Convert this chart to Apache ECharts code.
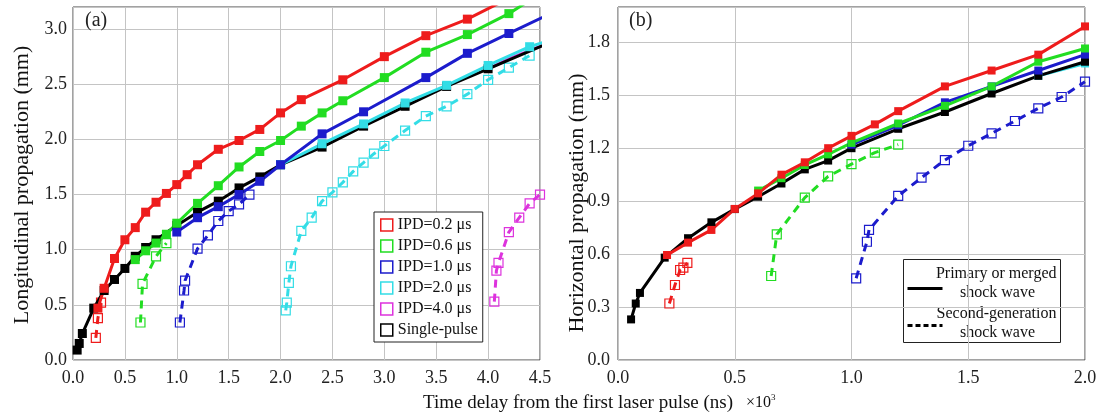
<!DOCTYPE html>
<html>
<head>
<meta charset="utf-8">
<script src="https://cdn.jsdelivr.net/npm/echarts@6/dist/echarts.min.js"></script>
<style>
html,body{margin:0;padding:0;background:#fff;}
#chart{width:1104px;height:417px;}
</style>
</head>
<body>
<div id="chart"></div>
<script>
// ---------- DATA : panel (a) longitudinal propagation ----------
var xTicksA = [0, 0.5, 1.0, 1.5, 2.0, 2.5, 3.0, 3.5, 4.0, 4.5];
var a_single = [[0.04,0.09],[0.06,0.15],[0.09,0.24],[0.2,0.47],[0.3,0.63],[0.4,0.73],[0.5,0.83],[0.6,0.94],[0.7,1.02],[0.8,1.09],[1.0,1.22],[1.2,1.34],[1.4,1.44],[1.6,1.56],[1.8,1.66],[2.0,1.77],[2.4,1.93],[2.8,2.12],[3.2,2.30],[3.6,2.48],[4.0,2.64],[4.6,2.88]];
var a_ipd02_main = [[0.24,0.47],[0.3,0.65],[0.4,0.92],[0.5,1.09],[0.6,1.20],[0.7,1.34],[0.8,1.43],[0.9,1.51],[1.0,1.59],[1.1,1.68],[1.2,1.77],[1.4,1.91],[1.6,1.99],[1.8,2.09],[2.0,2.24],[2.2,2.36],[2.6,2.54],[3.0,2.75],[3.4,2.94],[3.8,3.09],[4.2,3.28]];
var a_ipd02_second = [[0.22,0.20],[0.24,0.38],[0.27,0.52]];
var a_ipd06_main = [[0.6,0.91],[0.7,0.99],[0.8,1.06],[0.9,1.14],[1.0,1.24],[1.2,1.42],[1.4,1.58],[1.6,1.75],[1.8,1.89],[2.0,1.99],[2.2,2.12],[2.4,2.24],[2.6,2.35],[3.0,2.56],[3.4,2.79],[3.8,2.95],[4.2,3.14],[4.4,3.26]];
var a_ipd06_second = [[0.65,0.34],[0.67,0.69],[0.8,0.94],[0.9,1.06]];
var a_ipd10_main = [[1.0,1.16],[1.2,1.29],[1.4,1.39],[1.6,1.50],[1.8,1.62],[2.0,1.77],[2.4,2.05],[2.8,2.25],[3.4,2.56],[3.8,2.78],[4.2,2.96],[4.6,3.14]];
var a_ipd10_second = [[1.03,0.34],[1.07,0.63],[1.08,0.72],[1.2,1.01],[1.3,1.13],[1.4,1.26],[1.5,1.35],[1.6,1.41],[1.7,1.50]];
var a_ipd20_main = [[2.0,1.77],[2.4,1.96],[2.8,2.14],[3.2,2.33],[3.6,2.49],[4.0,2.67],[4.4,2.84],[4.6,2.90]];
var a_ipd20_second = [[2.05,0.45],[2.06,0.52],[2.08,0.70],[2.1,0.85],[2.2,1.17],[2.3,1.29],[2.4,1.44],[2.5,1.52],[2.6,1.61],[2.7,1.71],[2.8,1.79],[2.9,1.87],[3.0,1.94],[3.2,2.08],[3.4,2.21],[3.6,2.30],[3.8,2.41],[4.0,2.54],[4.2,2.65],[4.4,2.76]];
var a_ipd40_main = [[4.0,2.64],[4.2,2.73],[4.6,2.88]];
var a_ipd40_second = [[4.06,0.53],[4.08,0.81],[4.1,0.88],[4.2,1.16],[4.3,1.29],[4.4,1.42],[4.5,1.50]];

// ---------- DATA : panel (b) horizontal propagation ----------
var xTicksB = [0, 0.5, 1.0, 1.5, 2.0];
var b_single = [[0.056,0.23],[0.076,0.32],[0.094,0.38],[0.2,0.58],[0.3,0.69],[0.4,0.78],[0.5,0.855],[0.6,0.925],[0.7,1.00],[0.8,1.08],[0.9,1.13],[1.0,1.20],[1.2,1.31],[1.4,1.405],[1.6,1.51],[1.8,1.61],[2.0,1.69]];
var b_ipd02_main = [[0.21,0.595],[0.3,0.665],[0.4,0.737],[0.5,0.856],[0.6,0.944],[0.7,1.05],[0.8,1.12],[0.9,1.20],[1.0,1.27],[1.1,1.335],[1.2,1.41],[1.4,1.55],[1.6,1.64],[1.8,1.73],[2.0,1.89]];
var b_ipd02_second = [[0.22,0.32],[0.244,0.425],[0.266,0.51],[0.28,0.523],[0.297,0.55]];
var b_ipd06_main = [[0.6,0.96],[0.7,1.03],[0.8,1.105],[0.9,1.165],[1.0,1.23],[1.2,1.34],[1.4,1.44],[1.6,1.55],[1.8,1.69],[2.0,1.765]];
var b_ipd06_second = [[0.656,0.476],[0.68,0.712],[0.8,0.92],[0.9,1.04],[1.0,1.11],[1.1,1.175],[1.2,1.22]];
var b_ipd10_main = [[1.0,1.22],[1.2,1.33],[1.4,1.46],[1.6,1.55],[1.8,1.64],[2.0,1.73]];
var b_ipd10_second = [[1.02,0.463],[1.066,0.67],[1.075,0.737],[1.2,0.93],[1.3,1.033],[1.4,1.133],[1.5,1.214],[1.6,1.284],[1.7,1.354],[1.8,1.426],[1.9,1.49],[2.0,1.577]];
var b_ipd20_main = [[1.8,1.61],[2.0,1.68]];

var legendNames = ['IPD=0.2 \u03bcs','IPD=0.6 \u03bcs','IPD=1.0 \u03bcs','IPD=2.0 \u03bcs','IPD=4.0 \u03bcs','Single-pulse'];

// ---------- styling ----------
var C = {red:'#ee1c1c', green:'#22dd22', blue:'#1c1ccc', cyan:'#33dde6', magenta:'#dd33dd', black:'#000000'};
var FONT = '"Liberation Serif","Times New Roman",serif';

function solid(name, data, color, xi, size){
  return {type:'line', name:name, xAxisIndex:xi, yAxisIndex:xi, data:data, clip:true,
    symbol:'rect', symbolSize:size||9, showAllSymbol:true, animation:false,
    lineStyle:{color:color, width:3}, itemStyle:{color:color}, z:3};
}
function dashed(name, data, color, xi){
  return {type:'line', name:name, xAxisIndex:xi, yAxisIndex:xi, data:data, clip:true,
    symbol:'rect', symbolSize:9, showAllSymbol:true, animation:false,
    lineStyle:{color:color, width:3, type:[8,6]},
    itemStyle:{color:'rgba(255,255,255,0)', borderColor:color, borderWidth:1.2}, z:2};
}
function plain(name, data, color, xi){
  return {type:'line', name:name, xAxisIndex:xi, yAxisIndex:xi, data:data, clip:true,
    symbol:'none', animation:false, lineStyle:{color:color, width:3}, z:2};
}

var axisLabelStyle = {fontFamily:FONT, fontSize:18, color:'#222'};
function xAxisDef(gi, max){
  return {type:'value', gridIndex:gi, min:0, max:max, interval:0.5,
    axisLine:{show:false}, axisTick:{show:false},
    splitLine:{show:true, lineStyle:{color:'#c4c4c4', width:1}},
    axisLabel:Object.assign({margin:9, formatter:function(v){return v.toFixed(1);}}, axisLabelStyle)};
}
function yAxisDef(gi, max, iv, margin){
  return {type:'value', gridIndex:gi, min:0, max:max, interval:iv,
    axisLine:{show:false}, axisTick:{show:false},
    splitLine:{show:true, lineStyle:{color:'#c4c4c4', width:1}},
    axisLabel:Object.assign({margin:margin, showMaxLabel:false, formatter:function(v){return v.toFixed(1);}}, axisLabelStyle)};
}

var legendColors = [C.red, C.green, C.blue, C.cyan, C.magenta, C.black];

var option = {
  backgroundColor:'#fff',
  animation:false,
  grid:[
    {left:73, top:7, width:467, height:353, show:true, borderColor:'#444', borderWidth:1, backgroundColor:'#fff'},
    {left:618, top:7, width:467, height:353, show:true, borderColor:'#444', borderWidth:1, backgroundColor:'#fff'}
  ],
  xAxis:[xAxisDef(0,4.5), xAxisDef(1,2.0)],
  yAxis:[yAxisDef(0,3.2,0.5,6), yAxisDef(1,2.0,0.3,8)],
  legend:{
    orient:'vertical', left:374, top:212, padding:[5,5,4,6], itemGap:5,
    itemWidth:12, itemHeight:12,
    backgroundColor:'#fff', borderColor:'#222', borderWidth:1,
    textStyle:{fontFamily:FONT, fontSize:16, color:'#111', lineHeight:16},
    selectedMode:false,
    lineStyle:{opacity:0},
    data: legendNames.map(function(n,i){
      return {name:n, icon:'rect', itemStyle:{color:'#fff', borderColor:legendColors[i], borderWidth:1.5}};
    })
  },
  series:[
    // panel (a)
    dashed(legendNames[0], a_ipd02_second, C.red, 0),
    dashed(legendNames[1], a_ipd06_second, C.green, 0),
    dashed(legendNames[2], a_ipd10_second, C.blue, 0),
    dashed(legendNames[3], a_ipd20_second, C.cyan, 0),
    dashed(legendNames[4], a_ipd40_second, C.magenta, 0),
    plain(legendNames[4], a_ipd40_main, C.magenta, 0),
    solid(legendNames[5], a_single, C.black, 0),
    solid(legendNames[3], a_ipd20_main, C.cyan, 0),
    solid(legendNames[2], a_ipd10_main, C.blue, 0),
    solid(legendNames[1], a_ipd06_main, C.green, 0),
    solid(legendNames[0], a_ipd02_main, C.red, 0),
    // panel (b)
    dashed(legendNames[0], b_ipd02_second, C.red, 1),
    dashed(legendNames[1], b_ipd06_second, C.green, 1),
    dashed(legendNames[2], b_ipd10_second, C.blue, 1),
    solid(legendNames[3], b_ipd20_main, C.cyan, 1, 8),
    solid(legendNames[5], b_single, C.black, 1, 8),
    solid(legendNames[2], b_ipd10_main, C.blue, 1, 8),
    solid(legendNames[1], b_ipd06_main, C.green, 1, 8),
    solid(legendNames[0], b_ipd02_main, C.red, 1, 8)
  ],
  graphic:[
    {type:'text', left:85, top:11, z:10, style:{text:'(a)', font:'20px '+FONT, fill:'#222'}},
    {type:'text', left:629, top:11, z:10, style:{text:'(b)', font:'20px '+FONT, fill:'#222'}},
    {type:'text', x:22, y:185, rotation:Math.PI/2, z:10,
      style:{text:'Longitudinal propagation (mm)', font:'22px '+FONT, fill:'#111', align:'center', verticalAlign:'middle'}},
    {type:'text', x:577, y:203, rotation:Math.PI/2, z:10,
      style:{text:'Horizontal propagation (mm)', font:'22px '+FONT, fill:'#111', align:'center', verticalAlign:'middle'}},
    {type:'text', x:578, y:403, z:10,
      style:{text:'Time delay from the first laser pulse (ns)', font:'19px '+FONT, fill:'#111', align:'center', verticalAlign:'middle'}},
    {type:'text', x:746, y:403, z:10,
      style:{text:'{a|\u00d710}{b|3}', verticalAlign:'middle',
        rich:{a:{font:'16px '+FONT, fill:'#111'}, b:{font:'9px '+FONT, fill:'#111', verticalAlign:'top', padding:[0,0,10,0]}}}},
    // legend of panel (b)
    {type:'group', left:903, top:259, z:20, children:[
      {type:'rect', shape:{x:0, y:0, width:157, height:83}, style:{fill:'#fff', stroke:'#222', lineWidth:1}},
      {type:'line', shape:{x1:4, y1:29, x2:39, y2:29}, style:{stroke:'#000', lineWidth:3}},
      {type:'line', shape:{x1:4, y1:66, x2:39, y2:66}, style:{stroke:'#000', lineWidth:3, lineDash:[5,3]}},
      {type:'text', x:153, y:14, style:{text:'Primary or merged', font:'16px '+FONT, fill:'#111', align:'right', verticalAlign:'middle'}},
      {type:'text', x:94, y:33, style:{text:'shock wave', font:'16px '+FONT, fill:'#111', align:'center', verticalAlign:'middle'}},
      {type:'text', x:153, y:54, style:{text:'Second-generation', font:'16px '+FONT, fill:'#111', align:'right', verticalAlign:'middle'}},
      {type:'text', x:94, y:73, style:{text:'shock wave', font:'16px '+FONT, fill:'#111', align:'center', verticalAlign:'middle'}}
    ]}
  ]
};

var chart = echarts.init(document.getElementById('chart'), null, {renderer:'canvas'});
chart.setOption(option);
</script>
</body>
</html>
